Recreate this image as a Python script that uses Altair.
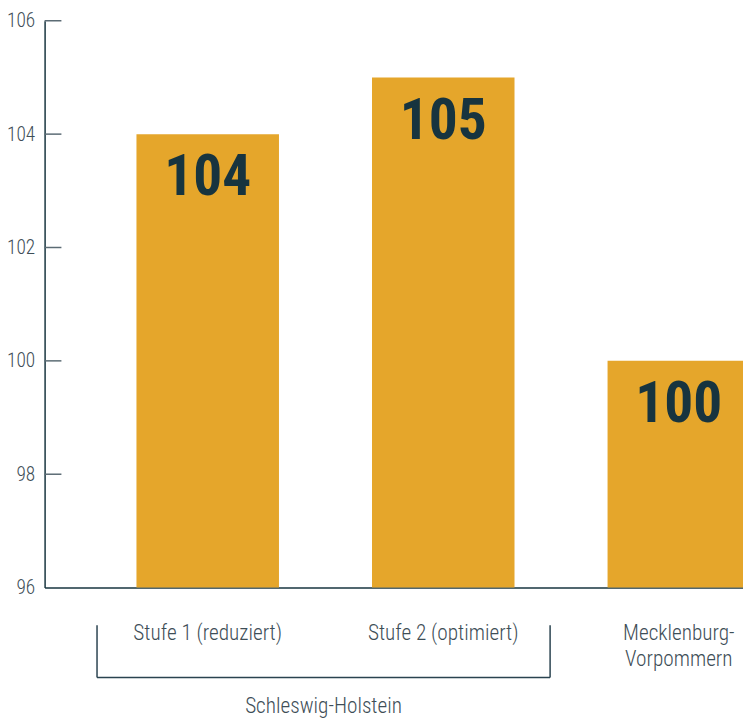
import altair as alt
import pandas as pd

categories = ["Stufe 1 (reduziert)", "Stufe 2 (optimiert)", "Mecklenburg-Vorpommern"]
values = [104, 105, 100]
tick_values = [96, 98, 100, 102, 104, 106]
inner_ticks = [98, 100, 102, 104, 106]
group_label = "Schleswig-Holstein"

FONT = "Roboto Condensed, Roboto, sans-serif"
BAR = "#E5A62B"
DARK = "#17343F"
LABEL = "#3E4E57"

df = pd.DataFrame({"cat": categories, "val": values})
ticks_df = pd.DataFrame({"t": inner_ticks})

x_scale = alt.Scale(paddingInner=0.395, paddingOuter=0.39)
x_enc = alt.X(
    "cat:N",
    sort=categories,
    scale=x_scale,
    axis=alt.Axis(
        title=None,
        labelAngle=0,
        ticks=False,
        labelPadding=35,
        labelFont=FONT,
        labelFontSize=21.5,
        labelFontWeight=300,
        labelColor=LABEL,
        labelLineHeight=27,
        labelExpr="datum.label == 'Mecklenburg-Vorpommern' ? ['Mecklenburg-', 'Vorpommern'] : datum.label",
        domainColor=DARK,
        domainWidth=1.5,
    ),
)
y_scale = alt.Scale(domain=[96, 106], nice=False, zero=False)
y_enc = alt.Y(
    "val:Q",
    scale=y_scale,
    axis=alt.Axis(
        title=None,
        values=tick_values,
        format="d",
        ticks=False,
        grid=False,
        labelPadding=10,
        labelFont=FONT,
        labelFontSize=19.5,
        labelFontWeight=300,
        labelColor=LABEL,
        domainColor=DARK,
        domainWidth=1.5,
    ),
)

base = alt.Chart(df)
bars = base.mark_bar(color=BAR).encode(x=x_enc, y=y_enc, y2=alt.datum(96))
nums = base.mark_text(
    font=FONT, fontSize=58, fontWeight="bold", color=DARK, baseline="middle", dy=45
).encode(x=alt.X("cat:N", sort=categories), y=alt.Y("val:Q"), text=alt.Text("val:Q"))

tick_rules = alt.Chart(ticks_df).mark_rule(color="#5B6B74", strokeWidth=1.5).encode(
    y=alt.Y("t:Q", scale=y_scale), x=alt.value(0), x2=alt.value(17)
)

bracket_df = pd.DataFrame({"g": [group_label]})
b_left = alt.Chart(bracket_df).mark_rule(color="#2A4350", strokeWidth=1.5).encode(
    x=alt.value(53), y=alt.value(611), y2=alt.value(664)
)
b_right = alt.Chart(bracket_df).mark_rule(color="#2A4350", strokeWidth=1.5).encode(
    x=alt.value(511), y=alt.value(611), y2=alt.value(664)
)
b_bottom = alt.Chart(bracket_df).mark_rule(color="#2A4350", strokeWidth=1.5).encode(
    x=alt.value(53), x2=alt.value(511), y=alt.value(664)
)
g_text = alt.Chart(bracket_df).mark_text(
    font=FONT, fontSize=21.5, fontWeight=300, color=LABEL, baseline="middle", align="center"
).encode(x=alt.value(282), y=alt.value(694), text="g:N")

chart = (
    alt.layer(bars, nums, tick_rules, b_left, b_right, b_bottom, g_text)
    .properties(
        width=806,
        height=573,
        autosize=alt.AutoSizeParams(type="none"),
        padding={"left": 37, "top": 9, "right": -100, "bottom": 135},
    )
    .configure_view(stroke=None)
)

chart.save("out.html", embed_options={"renderer": "svg", "actions": False})
